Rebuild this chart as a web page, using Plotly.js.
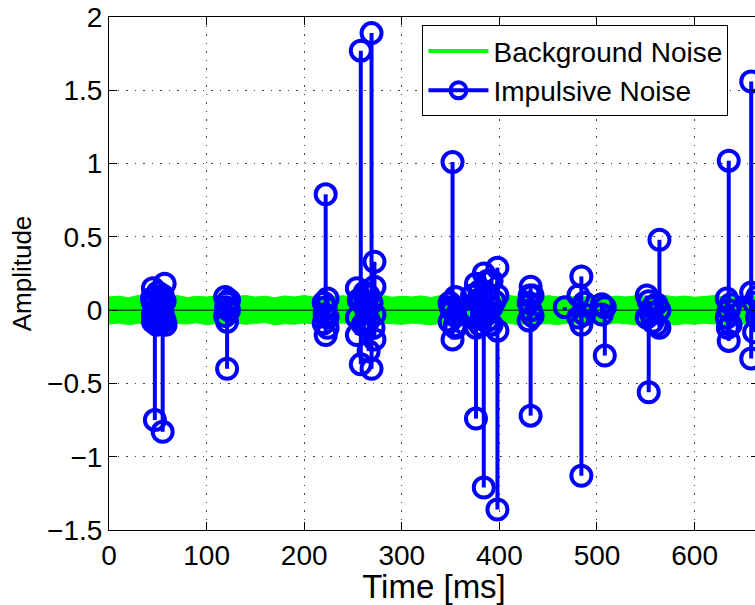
<!DOCTYPE html>
<html>
<head>
<meta charset="utf-8">
<script src="https://cdn.plot.ly/plotly-3.0.1.min.js"></script>
<style>
html,body{margin:0;padding:0;overflow:hidden;background:#fff;}
#chart{width:770px;height:605px;}
</style>
</head>
<body>
<div id="chart"></div>
<script>
// Background noise envelope (every 10 ms)
var bgTime = [0,10,20,30,40,50,60,70,80,90,100,110,120,130,140,150,160,170,180,190,200,210,220,230,240,250,260,270,280,290,300,310,320,330,340,350,360,370,380,390,400,410,420,430,440,450,460,470,480,490,500,510,520,530,540,550,560,570,580,590,600,610,620,630,640,650,660,666];
var bgUpper = [0.09,0.095,0.085,0.1,0.09,0.088,0.092,0.1,0.086,0.094,0.09,0.098,0.087,0.093,0.1,0.089,0.095,0.085,0.097,0.09,0.1,0.088,0.094,0.09,0.099,0.087,0.095,0.092,0.1,0.088,0.094,0.09,0.097,0.086,0.1,0.093,0.089,0.098,0.09,0.095,0.087,0.1,0.091,0.094,0.088,0.099,0.09,0.096,0.086,0.093,0.1,0.089,0.095,0.09,0.098,0.087,0.094,0.1,0.09,0.096,0.088,0.093,0.099,0.09,0.095,0.087,0.1,0.092];
var bgLower = [-0.095,-0.088,-0.1,-0.09,-0.094,-0.087,-0.099,-0.091,-0.095,-0.086,-0.1,-0.09,-0.093,-0.088,-0.097,-0.09,-0.085,-0.1,-0.092,-0.096,-0.088,-0.094,-0.09,-0.099,-0.087,-0.095,-0.09,-0.1,-0.089,-0.093,-0.097,-0.088,-0.094,-0.1,-0.09,-0.086,-0.096,-0.091,-0.099,-0.088,-0.094,-0.09,-0.1,-0.087,-0.095,-0.092,-0.098,-0.089,-0.094,-0.1,-0.09,-0.096,-0.087,-0.093,-0.099,-0.09,-0.095,-0.088,-0.1,-0.092,-0.096,-0.089,-0.094,-0.1,-0.087,-0.095,-0.09,-0.098];

// Impulsive noise stems: time [ms] and amplitude
var impTime = [44,45,45,45,45,47,47,47,49,50,50,50,52,53,53,55,55,55,57,57,57,58,
  119,119,120,121,121,121,123,123,
  220,220,221,222,222,222,224,224,224,
  254,254,254,256,258,258,258,260,262,262,262,264,266,266,266,269,269,269,271,272,272,272,272,
  349,349,350,352,352,352,354,355,355,355,
  372,372,374,376,376,376,378,380,380,380,382,384,384,384,386,388,388,388,390,392,392,392,395,398,398,398,398,
  430,430,431,432,432,432,434,434,
  467,481,481,484,484,484,487,487,
  505,505,508,508,
  551,551,553,553,555,557,557,561,561,564,564,564,
  633,633,634,635,635,635,637,637,
  658,658,658,661,661,664,664];
var impAmp = [0.08,0.15,0.05,-0.03,-0.08,-0.75,0.09,-0.05,-0.1,0.12,0.02,-0.06,0.07,0.04,-0.09,-0.83,0.1,-0.02,0.18,0.06,-0.07,-0.1,
  0.09,-0.04,0.02,-0.4,0.05,-0.08,0.07,0.0,
  0.05,-0.09,-0.03,0.79,-0.17,0.02,-0.05,0.08,-0.12,
  0.15,-0.05,-0.17,0.07,1.77,0.08,-0.37,-0.1,0.12,-0.1,0.03,0.0,-0.07,0.1,-0.28,1.89,-0.4,0.05,-0.12,0.33,0.16,-0.2,-0.03,
  0.05,-0.08,0.02,1.01,-0.2,0.0,-0.11,0.09,-0.04,-0.12,
  0.1,-0.05,0.0,-0.74,0.18,-0.12,0.07,0.13,-0.1,0.05,-0.06,-1.21,0.25,-0.02,0.12,0.08,-0.07,0.2,-0.1,0.2,0.02,-0.1,0.06,-1.36,0.29,-0.14,0.1,
  0.05,-0.07,0.1,-0.72,0.16,0.0,-0.04,0.1,
  0.02,0.1,-0.05,-1.13,0.23,-0.1,0.05,-0.03,
  0.04,-0.03,-0.31,0.02,
  0.1,-0.05,-0.56,0.06,-0.02,0.02,-0.08,0.04,-0.1,0.48,-0.12,0.0,
  0.08,-0.05,-0.12,1.02,-0.21,0.0,-0.1,0.04,
  1.56,-0.33,0.12,-0.15,0.05,-0.05,0.09];

var xRange = [0, 666];
var xTicks = [0,100,200,300,400,500,600];
var yTicks = [-1.5,-1,-0.5,0,0.5,1,1.5,2];
var yTickText = ['\u22121.5','\u22121','\u22120.5','0','0.5','1','1.5','2'];

// Build traces
var bandX = bgTime.concat(bgTime.slice().reverse());
var bandY = bgUpper.concat(bgLower.slice().reverse());

var stemX = [], stemY = [];
for (var i = 0; i < impTime.length; i++) {
  stemX.push(impTime[i], impTime[i], null);
  stemY.push(0, impAmp[i], null);
}

var blue = '#0000ff';
var green = '#00ff00';

var traces = [
  {x: bandX, y: bandY, type: 'scatter', mode: 'lines', fill: 'toself',
   fillcolor: green, line: {color: green, width: 1}, showlegend: false, hoverinfo: 'skip'},
  {x: xRange, y: [0, 0], type: 'scatter', mode: 'lines',
   line: {color: '#000', width: 1}, showlegend: false, hoverinfo: 'skip'},
  {x: stemX, y: stemY, type: 'scatter', mode: 'lines',
   line: {color: blue, width: 4}, showlegend: false, hoverinfo: 'skip'},
  {x: impTime, y: impAmp, type: 'scatter', mode: 'markers',
   marker: {symbol: 'circle-open', size: 20, color: blue, line: {color: blue, width: 4}},
   showlegend: false},
  {x: [null], y: [null], type: 'scatter', mode: 'lines', name: 'Background Noise',
   line: {color: green, width: 4}},
  {x: [null], y: [null], type: 'scatter', mode: 'lines+markers', name: 'Impulsive Noise',
   line: {color: blue, width: 4},
   marker: {symbol: 'circle-open', size: 16, color: blue, line: {color: blue, width: 4}}}
];

var axisCommon = {
  showline: true, linecolor: '#000', linewidth: 1, mirror: 'ticks',
  ticks: 'inside', ticklen: 8, tickcolor: '#000', tickwidth: 1,
  showgrid: true, gridcolor: '#444', gridwidth: 1, griddash: '1.5px,7px',
  zeroline: false, tickfont: {size: 28, color: '#000'}
};

var layout = {
  width: 770, height: 605,
  margin: {l: 109, r: 10.5, t: 17, b: 75},
  paper_bgcolor: '#fff', plot_bgcolor: '#fff',
  font: {family: 'Liberation Sans, Arial, sans-serif', color: '#000'},
  showlegend: true,
  legend: {x: 0.953, xanchor: 'right', y: 0.984, yanchor: 'top',
    bgcolor: '#fff', bordercolor: '#000', borderwidth: 1,
    font: {size: 28, color: '#000'}, itemwidth: 60, tracegroupgap: 0},
  xaxis: Object.assign({}, axisCommon, {
    range: xRange, tickmode: 'array', tickvals: xTicks,
    title: {text: 'Time [ms]', font: {size: 33}, standoff: 2}
  }),
  yaxis: Object.assign({}, axisCommon, {
    range: [-1.5, 2], tickmode: 'array', tickvals: yTicks, ticktext: yTickText,
    title: {text: 'Amplitude', font: {size: 26}, standoff: 8}
  })
};

Plotly.newPlot('chart', traces, layout, {displayModeBar: false, staticPlot: true});
</script>
</body>
</html>
